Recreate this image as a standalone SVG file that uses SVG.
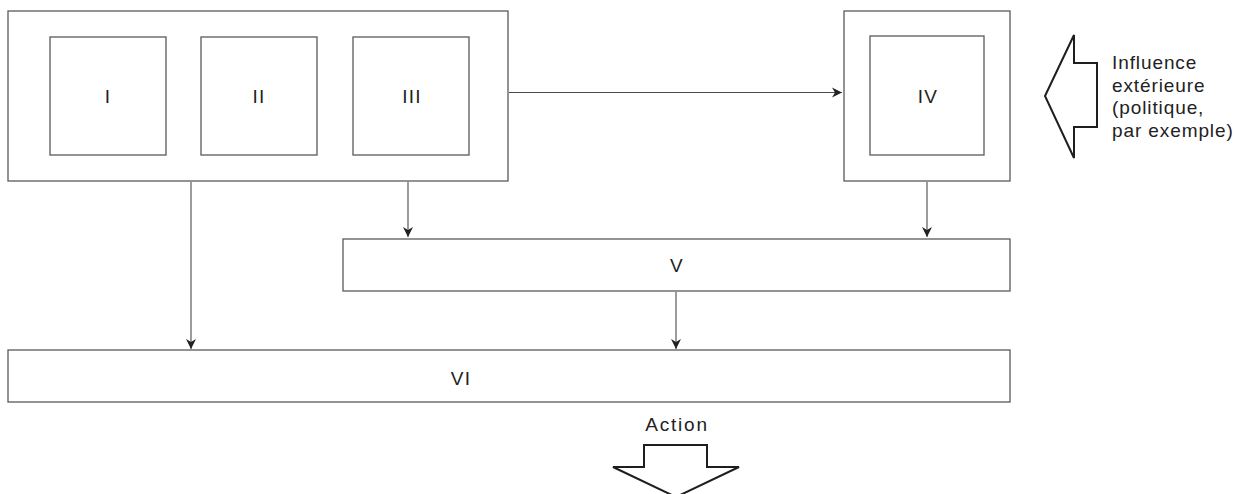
<svg xmlns="http://www.w3.org/2000/svg" width="1249" height="494" viewBox="0 0 1249 494">
  <style>
    .box { fill: none; stroke: #5a5a5a; stroke-width: 1.3; }
    .conn { fill: none; stroke: #4a4a4a; stroke-width: 1.1; marker-end: url(#arr); }
    .big { fill: #fff; stroke: #1e1e1e; stroke-width: 2; stroke-linejoin: miter; }
    .lbl { font-family: "Liberation Sans", Arial, sans-serif; font-size: 19px; fill: #222; letter-spacing: 1.3px; text-anchor: middle; }
    .side { font-family: "Liberation Sans", Arial, sans-serif; font-size: 19px; fill: #222; letter-spacing: 0.9px; }
  </style>
  <defs>
    <marker id="arr" markerUnits="userSpaceOnUse" markerWidth="12" markerHeight="12" viewBox="-10 -6 12 12" refX="0" refY="0" orient="auto">
      <path d="M0,0 L-10,-5 L-7,0 L-10,5 Z" fill="#222"/>
    </marker>
  </defs>
  <rect width="1249" height="494" fill="#fff"/>

  <g id="connectors">
    <line class="conn" x1="509" y1="92.5" x2="842" y2="92.5"/>
    <line class="conn" x1="191" y1="182" x2="191" y2="349"/>
    <line class="conn" x1="408" y1="182" x2="408" y2="237"/>
    <line class="conn" x1="927" y1="182" x2="927" y2="237"/>
    <line class="conn" x1="676" y1="292" x2="676" y2="349"/>
  </g>

  <g id="group-I-III">
    <rect class="box" x="8" y="11" width="500" height="170"/>
  </g>
  <g id="node-I">
    <rect class="box" x="50" y="37" width="116" height="118"/>
    <text class="lbl" x="108" y="103">I</text>
  </g>
  <g id="node-II">
    <rect class="box" x="201" y="37" width="116" height="118"/>
    <text class="lbl" x="259" y="103">II</text>
  </g>
  <g id="node-III">
    <rect class="box" x="353" y="37" width="116" height="118"/>
    <text class="lbl" x="412" y="103">III</text>
  </g>
  <g id="node-IV">
    <rect class="box" x="844" y="11" width="166" height="170"/>
    <rect class="box" x="870" y="36" width="114" height="119"/>
    <text class="lbl" x="928" y="103">IV</text>
  </g>
  <g id="node-V">
    <rect class="box" x="343" y="239" width="667" height="52"/>
    <text class="lbl" x="677" y="272">V</text>
  </g>
  <g id="node-VI">
    <rect class="box" x="8" y="350" width="1002" height="52"/>
    <text class="lbl" x="461" y="385">VI</text>
  </g>

  <g id="influence">
    <polygon class="big" points="1045,96 1074,35 1074,63 1097,63 1097,127 1074,127 1074,158"/>
    <text class="side" x="1112" y="69">Influence</text>
    <text class="side" x="1112" y="91.5">extérieure</text>
    <text class="side" x="1112" y="114">(politique,</text>
    <text class="side" x="1112" y="136.5">par exemple)</text>
  </g>

  <g id="action">
    <text class="lbl" x="677" y="431" style="letter-spacing:1.8px">Action</text>
    <polygon class="big" points="644,445 707,445 707,467 739,467 676,497 613,467 644,467"/>
  </g>
</svg>
